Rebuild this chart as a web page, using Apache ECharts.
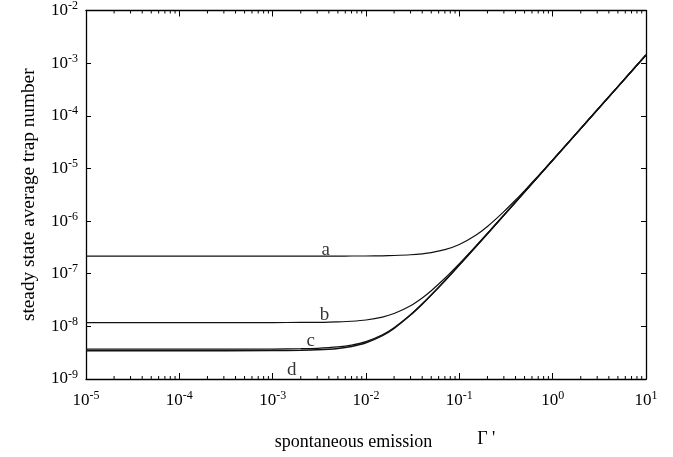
<!DOCTYPE html>
<html>
<head>
<meta charset="utf-8">
<script src="https://cdn.jsdelivr.net/npm/echarts@6/dist/echarts.min.js"></script>
<style>html,body{margin:0;padding:0;background:#fff;}#c{width:673px;height:457px;}</style>
</head>
<body>
<div id="c"></div>
<script>
// spontaneous emission values (x)
const gammaVals = [1e-5, 1e-4, 1e-3, 2e-3, 3e-3, 5e-3, 7e-3, 0.01, 0.015, 0.02, 0.03, 0.04, 0.05, 0.07, 0.1, 0.15, 0.2, 0.3, 0.4, 0.5, 0.7, 1, 2, 3, 5, 10];
// steady state average trap number, curves a-d
const curveA = [2.16e-7, 2.16e-7, 2.16e-7, 2.16e-7, 2.16e-7, 2.16e-7, 2.17e-7, 2.17e-7, 2.19e-7, 2.22e-7, 2.29e-7, 2.39e-7, 2.52e-7, 2.86e-7, 3.59e-7, 5.38e-7, 7.88e-7, 1.51e-6, 2.51e-6, 3.8e-6, 7.2e-6, 1.45e-5, 5.74e-5, 1.29e-4, 3.58e-4, 1.43e-3];
const curveB = [1.18e-8, 1.18e-8, 1.18e-8, 1.19e-8, 1.19e-8, 1.22e-8, 1.25e-8, 1.32e-8, 1.5e-8, 1.75e-8, 2.47e-8, 3.47e-8, 4.76e-8, 8.18e-8, 1.55e-7, 3.34e-7, 5.84e-7, 1.3e-6, 2.3e-6, 3.59e-6, 7.0e-6, 1.43e-5, 5.72e-5, 1.29e-4, 3.58e-4, 1.43e-3];
const curveC = [3.7e-9, 3.7e-9, 3.71e-9, 3.76e-9, 3.83e-9, 4.06e-9, 4.4e-9, 5.13e-9, 6.92e-9, 9.42e-9, 1.66e-8, 2.66e-8, 3.95e-8, 7.37e-8, 1.47e-7, 3.25e-7, 5.75e-7, 1.29e-6, 2.29e-6, 3.58e-6, 7.0e-6, 1.43e-5, 5.72e-5, 1.29e-4, 3.58e-4, 1.43e-3];
const curveD = [3.45e-9, 3.45e-9, 3.46e-9, 3.51e-9, 3.58e-9, 3.81e-9, 4.15e-9, 4.88e-9, 6.67e-9, 9.17e-9, 1.64e-8, 2.64e-8, 3.93e-8, 7.35e-8, 1.46e-7, 3.25e-7, 5.75e-7, 1.29e-6, 2.29e-6, 3.58e-6, 7.0e-6, 1.43e-5, 5.72e-5, 1.29e-4, 3.58e-4, 1.43e-3];
// curve letter labels
const labelNames = ['a', 'b', 'c', 'd'];
const labelX = [3.7e-3, 3.6e-3, 2.56e-3, 1.6e-3];
const labelY = [2.85e-7, 1.64e-8, 5.25e-9, 1.48e-9];
// axes
const xDecades = [-5, -4, -3, -2, -1, 0, 1];
const yDecades = [-9, -8, -7, -6, -5, -4, -3, -2];
const minorMultipliers = [2, 3, 4, 5, 6, 7, 8, 9];
const xName = 'spontaneous emission';
const xSymbol = "\u0393 '";
const yName = 'steady state average trap number';

const xMin = Math.pow(10, xDecades[0]), xMax = Math.pow(10, xDecades[xDecades.length - 1]);
const yMin = Math.pow(10, yDecades[0]), yMax = Math.pow(10, yDecades[yDecades.length - 1]);

const minorTicks = [];
for (let i = 0; i < xDecades.length - 1; i++) {
  minorMultipliers.forEach(m => minorTicks.push([m * Math.pow(10, xDecades[i]), yMin]));
}

const FONT = 'Liberation Serif';
const rich = {
  b: { fontSize: 17, fontFamily: FONT, color: '#000' },
  s: { fontSize: 12, fontFamily: FONT, color: '#000', padding: [0, 0, 9, 0] }
};
function powLabel(v) {
  const e = Math.round(Math.log10(v));
  return '{b|10}{s|' + e + '}';
}
function mk(arr) { return gammaVals.map((g, i) => [g, arr[i]]); }

const lineStyle = { color: '#111', width: 1.2 };
const axisLineStyle = { color: '#000', width: 1.3 };

const chart = echarts.init(document.getElementById('c'));
chart.setOption({
  animation: false,
  backgroundColor: '#fff',
  grid: { left: 86, right: 27, top: 10, bottom: 78 },
  xAxis: [{
    type: 'log', min: xMin, max: xMax, logBase: 10, position: 'bottom',
    axisLine: { lineStyle: axisLineStyle },
    axisTick: { inside: true, length: 6, lineStyle: { color: '#000', width: 1 } },
    axisLabel: { formatter: powLabel, rich: rich, margin: 11 },
    splitLine: { show: false },
    name: '{t|' + xName + '}{g|' + xSymbol + '}',
    nameLocation: 'middle', nameGap: 51,
    nameTextStyle: {
      padding: [0, 0, 0, 38],
      rich: {
        t: { fontSize: 18, fontFamily: FONT, color: '#000' },
        g: { fontSize: 18, fontFamily: FONT, color: '#000', padding: [0, 0, 6, 45] }
      }
    }
  }, {
    type: 'log', min: xMin, max: xMax, logBase: 10, position: 'top',
    axisLine: { lineStyle: axisLineStyle },
    axisTick: { inside: true, length: 6, lineStyle: { color: '#000', width: 1 } },
    axisLabel: { show: false }, splitLine: { show: false }
  }],
  yAxis: [{
    type: 'log', min: yMin, max: yMax, logBase: 10, position: 'left',
    axisLine: { lineStyle: axisLineStyle },
    axisTick: { inside: true, length: 5, lineStyle: { color: '#000', width: 1 } },
    axisLabel: { formatter: powLabel, rich: rich, margin: 8 },
    splitLine: { show: false },
    name: yName, nameLocation: 'middle', nameGap: 48, nameRotate: 90,
    nameTextStyle: { fontSize: 19.3, fontFamily: FONT, color: '#000' }
  }, {
    type: 'log', min: yMin, max: yMax, logBase: 10, position: 'right',
    axisLine: { lineStyle: axisLineStyle },
    axisTick: { inside: true, length: 5, lineStyle: { color: '#000', width: 1 } },
    axisLabel: { show: false }, splitLine: { show: false }
  }],
  series: [
    { type: 'line', data: mk(curveA), showSymbol: false, lineStyle: lineStyle, smooth: 0.2 },
    { type: 'line', data: mk(curveB), showSymbol: false, lineStyle: lineStyle, smooth: 0.2 },
    { type: 'line', data: mk(curveC), showSymbol: false, lineStyle: { color: '#111', width: 1.3 }, smooth: 0.2 },
    { type: 'line', data: mk(curveD), showSymbol: false, lineStyle: { color: '#111', width: 1.5 }, smooth: 0.2 },
    {
      type: 'scatter', symbolSize: 0, silent: true,
      data: labelNames.map((n, i) => ({ value: [labelX[i], labelY[i]], name: n })),
      label: { show: true, position: 'inside', formatter: p => p.name, fontSize: 19, fontFamily: FONT, color: '#000' }
    },
    {
      type: 'custom', silent: true, clip: false, data: minorTicks,
      renderItem: function (params, api) {
        const v = api.value(0);
        const pb = api.coord([v, yMin]);
        const pt = api.coord([v, yMax]);
        const st = { stroke: '#000', lineWidth: 1 };
        return {
          type: 'group', children: [
            { type: 'line', shape: { x1: pb[0], y1: pb[1], x2: pb[0], y2: pb[1] - 3 }, style: st },
            { type: 'line', shape: { x1: pt[0], y1: pt[1], x2: pt[0], y2: pt[1] + 3 }, style: st }
          ]
        };
      }
    }
  ]
});
</script>
</body>
</html>
